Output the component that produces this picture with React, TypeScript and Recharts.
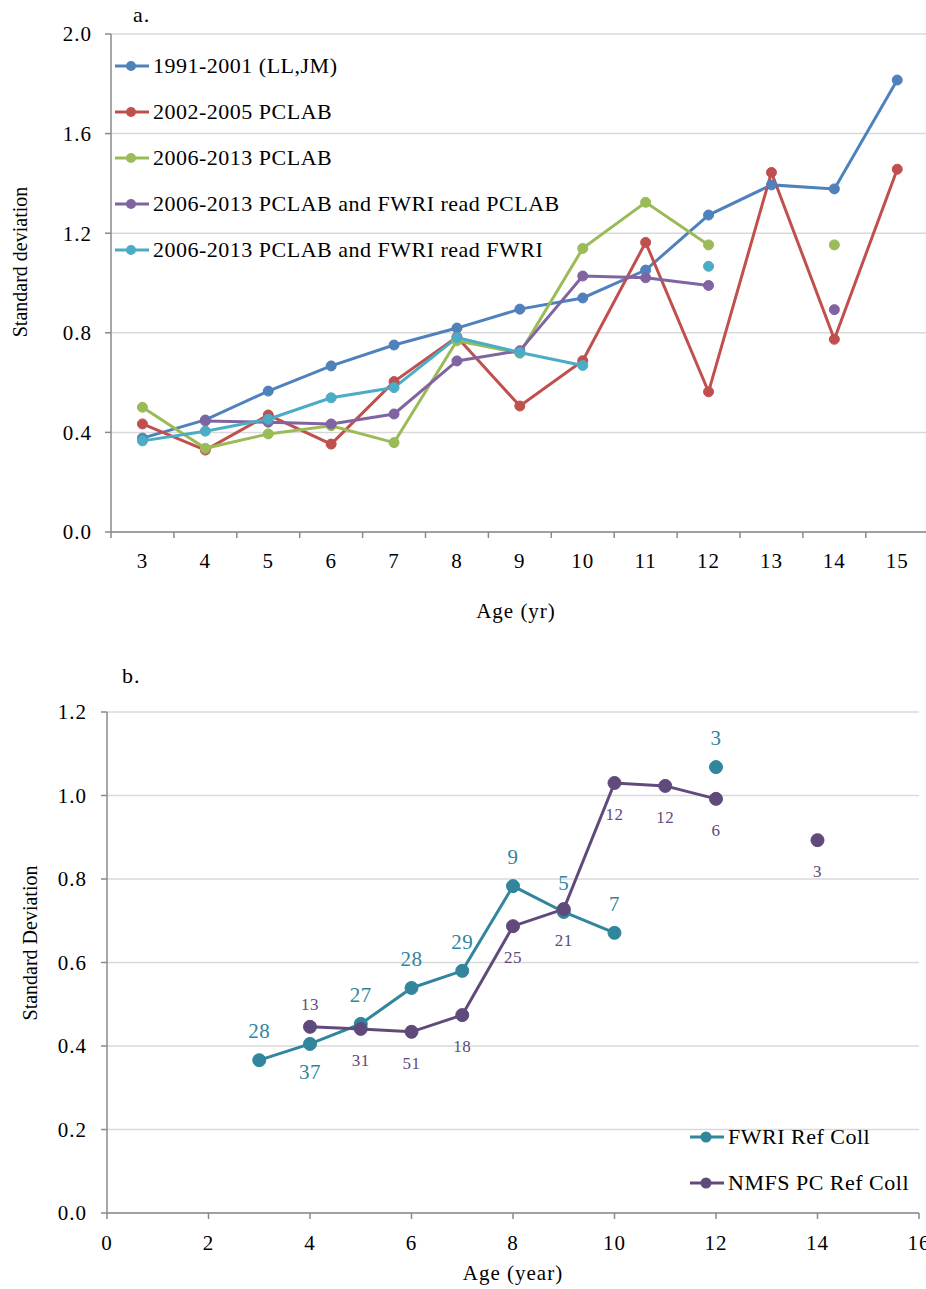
import React from 'react';
import { LineChart, Line, XAxis, YAxis, CartesianGrid, Legend, LabelList } from 'recharts';

const FONT = '"Liberation Serif", "Times New Roman", serif';

// ---------- Panel a ----------
const agesA = [3, 4, 5, 6, 7, 8, 9, 10, 11, 12, 13, 14, 15];
const s1991 = [0.377, 0.45, 0.566, 0.667, 0.751, 0.819, 0.895, 0.94, 1.052, 1.273, 1.394, 1.378, 1.815];
const s2002 = [0.434, 0.329, 0.47, 0.353, 0.604, 0.783, 0.506, 0.688, 1.163, 0.563, 1.444, 0.774, 1.457];
const s2006 = [0.501, 0.336, 0.394, 0.427, 0.359, 0.768, 0.718, 1.139, 1.324, 1.153, null, 1.153, null];
const s2006p = [null, 0.446, 0.441, 0.434, 0.474, 0.687, 0.728, 1.028, 1.021, 0.99, null, 0.893, null];
const s2006f = [0.366, 0.405, 0.453, 0.539, 0.58, 0.781, 0.721, 0.669, null, 1.067, null, null, null];
const namesA = [
  '1991-2001 (LL,JM)',
  '2002-2005 PCLAB',
  '2006-2013 PCLAB',
  '2006-2013 PCLAB and FWRI read PCLAB',
  '2006-2013 PCLAB and FWRI read FWRI',
];
const yTicksA = [0, 0.4, 0.8, 1.2, 1.6, 2.0];

// ---------- Panel b ----------
const agesB = [3, 4, 5, 6, 7, 8, 9, 10, 11, 12, 13, 14];
const fwri = [0.366, 0.405, 0.453, 0.539, 0.58, 0.783, 0.721, 0.671, null, 1.068, null, null];
const nmfs = [null, 0.446, 0.441, 0.434, 0.474, 0.687, 0.728, 1.03, 1.023, 0.992, null, 0.893];
const fwriN = [28, 37, 27, 28, 29, 9, 5, 7, null, 3, null, null];
const nmfsN = [null, 13, 31, 51, 18, 25, 21, 12, 12, 6, null, 3];
const namesB = ['FWRI Ref Coll', 'NMFS PC Ref Coll'];
const xTicksB = [0, 2, 4, 6, 8, 10, 12, 14, 16];
const yTicksB = [0, 0.2, 0.4, 0.6, 0.8, 1.0, 1.2];
const fwriBelowAges = [4];
const nmfsAboveAges = [4];

const dataA = agesA.map((age, i) => ({
  age,
  a: s1991[i],
  b: s2002[i],
  c: s2006[i],
  d: s2006p[i],
  e: s2006f[i],
}));

const dataB = agesB.map((age, i) => ({
  age,
  fwri: fwri[i],
  nmfs: nmfs[i],
  fwriN: fwriN[i],
  nmfsN: nmfsN[i],
}));

const colorsA = ['#4F81BD', '#C0504D', '#9BBB59', '#8064A2', '#4BACC6'];
const colorsB = ['#31859C', '#604A7B'];
const AXIS = '#8a8a8a';
const GRID = '#d9d9d9';

const HALF_BAND_A = (928.7 - 111) / 13 / 2;

const TopTick = (props: any) => {
  const { x, y, payload } = props;
  return (
    <g>
      <line x1={x - HALF_BAND_A} y1={y} x2={x - HALF_BAND_A} y2={y + 6} stroke={AXIS} strokeWidth={1.5} />
      <text x={x} y={y + 36} textAnchor="middle" fontFamily={FONT} fontSize={21} fill="#000" letterSpacing={1}>
        {payload.value}
      </text>
    </g>
  );
};

const makeLegend = (names: string[], dotR: number) => (props: any) => {
  const items = [...(props.payload || [])].sort(
    (p: any, q: any) => names.indexOf(p.value) - names.indexOf(q.value)
  );
  return (
    <div style={{ fontFamily: FONT }}>
      {items.map((it: any) => (
        <div key={it.value} style={{ display: 'flex', alignItems: 'center', height: 46, whiteSpace: 'nowrap' }}>
          <svg width={36} height={14} style={{ marginRight: 3, flex: 'none' }}>
            <line x1={1} y1={7} x2={35} y2={7} stroke={it.color} strokeWidth={3} />
            <circle cx={17} cy={7} r={dotR} fill={it.color} />
          </svg>
          <span style={{ fontSize: 22, letterSpacing: 0.5, color: '#000', lineHeight: '24px' }}>{it.value}</span>
        </div>
      ))}
    </div>
  );
};

const makeCountLabel = (color: string, size: number, isBelow: (age: number) => boolean, upDy: number, downDy: number) =>
  (props: any) => {
    const { x, y, value, index } = props;
    if (value === null || value === undefined || x == null || y == null) return null;
    const below = isBelow(agesB[index]);
    return (
      <text
        x={x}
        y={y + (below ? downDy : upDy)}
        textAnchor="middle"
        fontFamily={FONT}
        fontSize={size}
        fill={color}
        letterSpacing={0.5}
      >
        {value}
      </text>
    );
  };

const fwriLabel = makeCountLabel(colorsB[0], 21, (a) => fwriBelowAges.includes(a), -22, 35);
const nmfsLabel = makeCountLabel(colorsB[1], 17, (a) => !nmfsAboveAges.includes(a), -17, 37);

const tickStyle = { fontFamily: FONT, fontSize: 21, fill: '#000', letterSpacing: 1 };

export default function App() {
  const keysA = ['a', 'b', 'c', 'd', 'e'];
  return (
    <div
      style={{
        position: 'absolute',
        left: 0,
        top: 0,
        width: 926,
        height: 1289,
        overflow: 'hidden',
        background: '#fff',
        fontFamily: FONT,
      }}
    >
      {/* Panel a */}
      <div style={{ position: 'absolute', left: 0, top: 0 }}>
        <LineChart width={940} height={640} data={dataA} margin={{ top: 34, right: 11.3, bottom: 68, left: 51 }}>
          <CartesianGrid vertical={false} stroke={GRID} strokeWidth={1.5} />
          <XAxis
            type="number"
            dataKey="age"
            domain={[2.5, 15.5]}
            ticks={agesA}
            interval={0}
            height={40}
            tickLine={false}
            tickSize={0}
            tickMargin={0}
            axisLine={{ stroke: AXIS, strokeWidth: 1.5 }}
            tick={<TopTick />}
          />
          <YAxis
            type="number"
            domain={[0, 2]}
            ticks={yTicksA}
            interval={0}
            width={60}
            tickSize={6}
            tickMargin={13}
            tickLine={{ stroke: AXIS, strokeWidth: 1.5 }}
            axisLine={{ stroke: AXIS, strokeWidth: 1.5 }}
            tick={tickStyle}
            tickFormatter={(v: number) => v.toFixed(1)}
          />
          <Legend
            layout="vertical"
            align="center"
            verticalAlign="middle"
            wrapperStyle={{ left: 114, top: 43, width: 'auto', height: 'auto' }}
            content={makeLegend(namesA, 5)}
          />
          {keysA.map((k, i) => (
            <Line
              key={k}
              type="linear"
              dataKey={k}
              name={namesA[i]}
              stroke={colorsA[i]}
              strokeWidth={3}
              dot={{ r: 5, fill: colorsA[i], stroke: colorsA[i], strokeWidth: 1 }}
              activeDot={false}
              connectNulls={false}
              isAnimationActive={false}
            />
          ))}
        </LineChart>
      </div>

      {/* Panel b */}
      <div style={{ position: 'absolute', left: 0, top: 660 }}>
        <LineChart width={940} height={629} data={dataB} margin={{ top: 52, right: 21, bottom: 36, left: 47 }}>
          <CartesianGrid vertical={false} stroke={GRID} strokeWidth={1.5} />
          <XAxis
            type="number"
            dataKey="age"
            domain={[0, 16]}
            ticks={xTicksB}
            interval={0}
            height={40}
            tickSize={6}
            tickMargin={16}
            tickLine={{ stroke: AXIS, strokeWidth: 1.5 }}
            axisLine={{ stroke: AXIS, strokeWidth: 1.5 }}
            tick={tickStyle}
          />
          <YAxis
            type="number"
            domain={[0, 1.2]}
            ticks={yTicksB}
            interval={0}
            width={60}
            tickSize={6}
            tickMargin={14}
            tickLine={{ stroke: AXIS, strokeWidth: 1.5 }}
            axisLine={{ stroke: AXIS, strokeWidth: 1.5 }}
            tick={tickStyle}
            tickFormatter={(v: number) => v.toFixed(1)}
          />
          <Legend
            layout="vertical"
            align="center"
            verticalAlign="middle"
            wrapperStyle={{ left: 689, top: 454, width: 'auto', height: 'auto' }}
            content={makeLegend(namesB, 5.5)}
          />
          <Line
            type="linear"
            dataKey="fwri"
            name={namesB[0]}
            stroke={colorsB[0]}
            strokeWidth={3}
            dot={{ r: 6.5, fill: colorsB[0], stroke: colorsB[0], strokeWidth: 1 }}
            activeDot={false}
            connectNulls={false}
            isAnimationActive={false}
          >
            <LabelList dataKey="fwriN" content={fwriLabel} />
          </Line>
          <Line
            type="linear"
            dataKey="nmfs"
            name={namesB[1]}
            stroke={colorsB[1]}
            strokeWidth={3}
            dot={{ r: 6.5, fill: colorsB[1], stroke: colorsB[1], strokeWidth: 1 }}
            activeDot={false}
            connectNulls={false}
            isAnimationActive={false}
          >
            <LabelList dataKey="nmfsN" content={nmfsLabel} />
          </Line>
        </LineChart>
      </div>

      {/* Titles */}
      <svg
        width={926}
        height={1289}
        style={{ position: 'absolute', left: 0, top: 0, pointerEvents: 'none' }}
      >
        <g fontFamily={FONT} fill="#000">
          <text x={133} y={22} fontSize={22} letterSpacing={1}>a.</text>
          <text x={27} y={262} fontSize={20} textAnchor="middle" transform="rotate(-90 27 262)">
            Standard deviation
          </text>
          <text x={516} y={618} fontSize={21} textAnchor="middle" letterSpacing={1}>Age (yr)</text>
          <text x={122} y={683} fontSize={22} letterSpacing={1}>b.</text>
          <text x={37} y={943} fontSize={20} textAnchor="middle" transform="rotate(-90 37 943)">
            Standard Deviation
          </text>
          <text x={513} y={1280} fontSize={21} textAnchor="middle" letterSpacing={1}>Age (year)</text>
        </g>
      </svg>
    </div>
  );
}
